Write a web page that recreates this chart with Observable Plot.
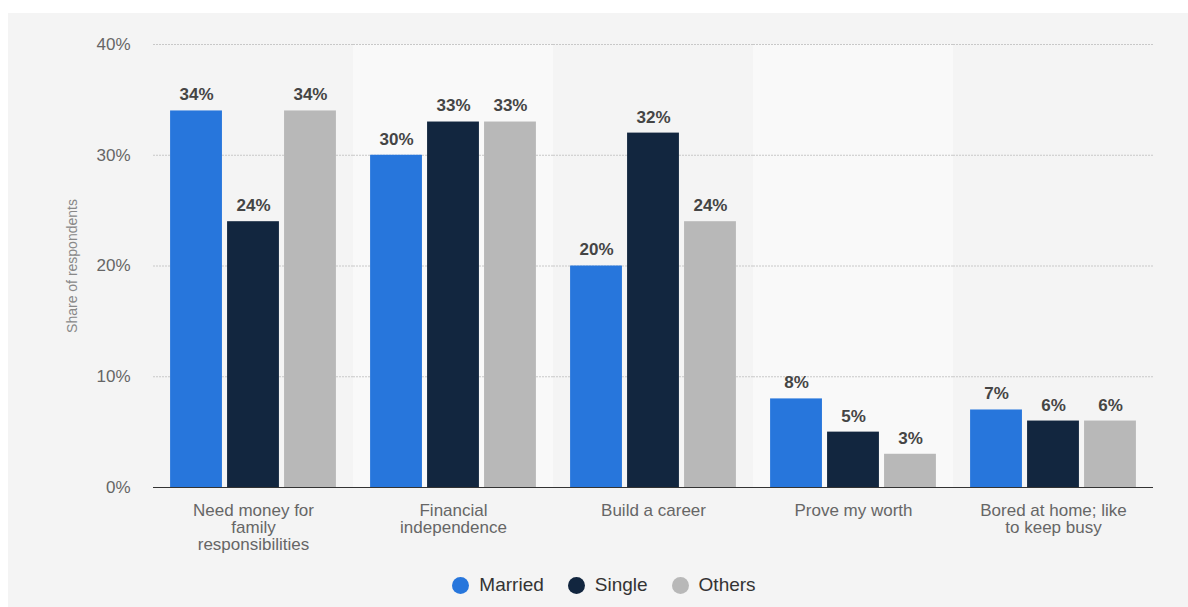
<!DOCTYPE html>
<html><head><meta charset="utf-8">
<script src="https://cdn.jsdelivr.net/npm/d3@7"></script>
<script src="https://cdn.jsdelivr.net/npm/@observablehq/plot@0.6"></script>
<style>
body{margin:0;background:#fff;font-family:"Liberation Sans",Arial,sans-serif;}
#chart{position:absolute;left:8px;top:13px;width:1180px;height:594px;background:#f4f4f4;overflow:hidden;}
#chart svg{display:block;}
#legend{display:flex;justify-content:center;align-items:center;height:44px;font-size:19px;color:#333;padding-left:12px;box-sizing:border-box;}
.item{display:flex;align-items:center;margin:0 12px;}
.dot{width:17px;height:17px;border-radius:50%;margin-right:10px;}
</style></head><body><div id="chart"></div>
<script>
const categories = ["Need money for family responsibilities", "Financial independence", "Build a career", "Prove my worth", "Bored at home; like to keep busy"];
const categoryLabels = ["Need money for\nfamily\nresponsibilities", "Financial\nindependence", "Build a career", "Prove my worth", "Bored at home; like\nto keep busy"];
const seriesNames = ["Married", "Single", "Others"];
const married = [34, 30, 20, 8, 7];
const single = [24, 33, 32, 5, 6];
const others = [34, 33, 24, 3, 6];
const seriesColors = ["#2776dc", "#12263f", "#b8b8b8"];
const yTicks = [0, 10, 20, 30, 40];
const gridTicks = [10, 20, 30, 40];
const shadedCategories = [categories[1], categories[3]];

const rows = [];
categories.forEach((c, i) => {
  [married, single, others].forEach((arr, j) => rows.push({category: c, series: seriesNames[j], value: arr[i]}));
});

const plot = Plot.plot({
  width: 1180, height: 550,
  marginLeft: 145, marginRight: 35, marginTop: 31, marginBottom: 76,
  style: {background: "transparent", fontFamily: "'Liberation Sans', Arial, sans-serif", overflow: "visible"},
  fx: {domain: categories, padding: 0, axis: null, label: null, round: false},
  x: {domain: seriesNames, paddingInner: 0.09, paddingOuter: 0.3, axis: null, round: false},
  y: {domain: [0, 40], axis: null},
  color: {domain: seriesNames, range: seriesColors},
  marks: [
    Plot.rect(shadedCategories, {fx: d => d, y1: 0, y2: 40, fill: "#f9f9f9"}),
    Plot.ruleY(gridTicks, {stroke: "#c8c8c8", strokeDasharray: "2,1"}),
    Plot.barY(rows, {fx: "category", x: "series", y: "value", fill: "series"}),
    Plot.ruleY([0], {stroke: "#333", strokeWidth: 1}),
    Plot.text(rows, {fx: "category", x: "series", y: "value", text: d => d.value + "%", dy: -16, fontSize: 17, fontWeight: "bold", fill: "#454545"}),
    Plot.text(categories, {fx: d => d, text: (d, i) => categoryLabels[i], frameAnchor: "bottom", textAnchor: "middle", lineAnchor: "top", dy: 16, fontSize: 17, lineHeight: 1, fill: "#666"}),
    Plot.axisY({ticks: yTicks, tickFormat: d => d + "%", tickSize: 0, tickPadding: 23, fontSize: 17, color: "#666", label: null}),
    Plot.text([categories[0]], {fx: d => d, text: () => "Share of respondents", frameAnchor: "left", textAnchor: "middle", rotate: -90, dx: -81, fontSize: 14, fill: "#888"})
  ]
});

const chart = document.getElementById("chart");
chart.appendChild(plot);

const legend = document.createElement("div");
legend.id = "legend";
seriesNames.forEach((name, i) => {
  const item = document.createElement("div");
  item.className = "item";
  const dot = document.createElement("span");
  dot.className = "dot";
  dot.style.background = seriesColors[i];
  const label = document.createElement("span");
  label.textContent = name;
  item.appendChild(dot);
  item.appendChild(label);
  legend.appendChild(item);
});
chart.appendChild(legend);
</script>
</body></html>
